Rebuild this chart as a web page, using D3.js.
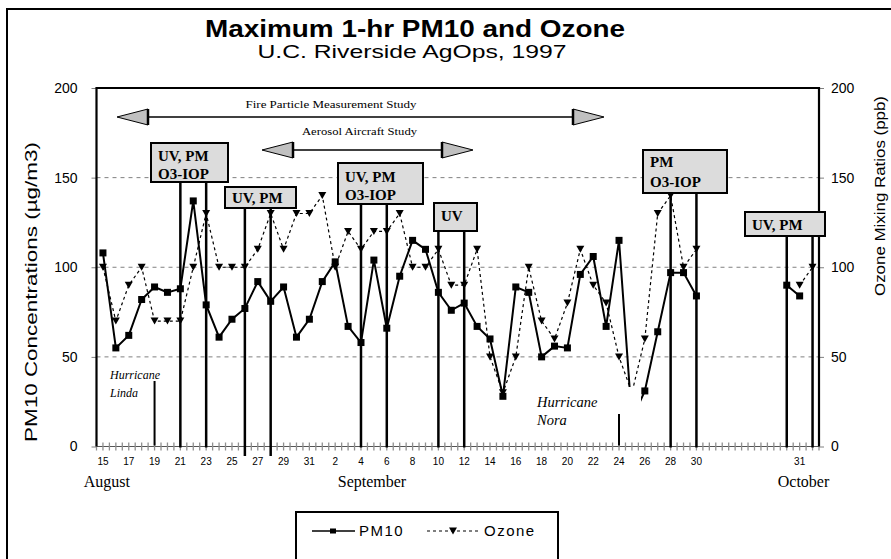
<!DOCTYPE html>
<html>
<head>
<meta charset="utf-8">
<script src="https://cdn.jsdelivr.net/npm/d3@7"></script>
<style>
  body { margin: 0; background: #fff; }
  text { fill: #000; }
</style>
</head>
<body>
<svg id="chart" width="891" height="559"></svg>
<script>
// Day-of-month label for each category on the x axis (blank = unlabeled slot)
const dayNames = [
  "15","16","17","18","19","20","21","22","23","24","25","26","27","28","29","30","31",
  "1","2","3","4","5","6","7","8","9","10","11","12","13","14","15","16","17","18","19","20",
  "21","22","23","24","25","26","27","28","29","30",
  "","","","","","","","31",""
];

// Maximum 1-hr PM10 (µg/m3), one value per category
const pm10 = [
  108, 55, 62, 82, 89, 86, 88, 137, 79, 61, 71, 77, 92, 81, 89, 61, 71,
  92, 103, 67, 58, 104, 66, 95, 115, 110, 86, 76, 80, 67, 60, 28, 89, 86, 50, 56, 55,
  96, 106, 67, 115, 15, 31, 64, 97, 97, 84,
  null, null, null, null, null, null, 90, 84, null
];

// Maximum 1-hr ozone (ppb), one value per category
const ozone = [
  100, 70, 90, 100, 70, 70, 70, 100, 130, 100, 100, 100, 110, 130, 110, 130, 130,
  140, 100, 120, 110, 120, 120, 130, 100, 100, 110, 90, 90, 110, 50, 30, 50, 100, 70, 60, 80,
  110, 90, 80, 50, 30, 60, 130, 140, 100, 110,
  null, null, null, null, null, null, null, 90, 100
];

const yTicks = [0, 50, 100, 150, 200];
const gridValues = [50, 100, 150];

const months = [
  { name: "August", at: 0.3 },
  { name: "September", at: 20.85 },
  { name: "October", at: 54.3 }
];

// Sampling periods: label lines and the category that each vertical marker stands on
const samplingBoxes = [
  { text: ["UV, PM", "O3-IOP"], days: [6, 8] },
  { text: ["UV, PM"], days: [11, 13] },
  { text: ["UV, PM", "O3-IOP"], days: [20, 22] },
  { text: ["UV"], days: [26, 28] },
  { text: ["PM", "O3-IOP"], days: [44, 46] },
  { text: ["UV, PM"], days: [53, 55] }
];

const studies = ["Fire Particle Measurement Study", "Aerosol Aircraft Study"];
const hurricanes = [
  { name: ["Hurricane", "Linda"], day: 4 },
  { name: ["Hurricane", "Nora"], day: 40 }
];

const seriesNames = ["PM10", "Ozone"];

// ---------------------------------------------------------------------------
const svg = d3.select("#chart");
const SANS = "'Liberation Sans', Arial, sans-serif";
const SERIF = "'Liberation Serif', 'Times New Roman', serif";

const plot = { left: 96.5, right: 819, top: 88, bottom: 446.5 };

const x = d3.scaleLinear().domain([-0.5, dayNames.length - 0.5]).range([plot.left, plot.right]);
const y = d3.scaleLinear().domain([0, 200]).range([plot.bottom, plot.top]);
const yR = d3.scaleLinear().domain([0, 200]).range([plot.bottom, plot.top]);

// outer frame
svg.append("rect").attr("x", 7).attr("y", 9).attr("width", 900).attr("height", 600)
  .attr("fill", "#fff").attr("stroke", "#000").attr("stroke-width", 2);

// titles
svg.append("text").attr("x", 415).attr("y", 37).attr("text-anchor", "middle")
  .attr("font-family", SANS).attr("font-weight", "bold").attr("font-size", 24)
  .attr("textLength", 420).attr("lengthAdjust", "spacingAndGlyphs")
  .text("Maximum 1-hr PM10 and Ozone");
svg.append("text").attr("x", 412).attr("y", 58).attr("text-anchor", "middle")
  .attr("font-family", SANS).attr("font-size", 19)
  .attr("textLength", 309).attr("lengthAdjust", "spacingAndGlyphs")
  .text("U.C. Riverside AgOps, 1997");

// gridlines
svg.append("g").selectAll("line").data(gridValues).join("line")
  .attr("x1", plot.left).attr("x2", plot.right)
  .attr("y1", d => y(d)).attr("y2", d => y(d))
  .attr("stroke", "#808080").attr("stroke-width", 1).attr("stroke-dasharray", "4,4");

// left axis
const gL = svg.append("g").attr("transform", `translate(${plot.left},0)`)
  .call(d3.axisLeft(y).tickValues(yTicks).tickSize(5).tickPadding(14));
gL.select(".domain").remove();
gL.selectAll(".tick line").attr("stroke", "#808080");
gL.selectAll(".tick text").attr("font-family", SANS).attr("font-size", 14).attr("fill", "#000");

// right axis
const gR = svg.append("g").attr("transform", `translate(${plot.right},0)`)
  .call(d3.axisRight(yR).tickValues(yTicks).tickSize(5).tickPadding(7));
gR.select(".domain").remove();
gR.selectAll(".tick line").attr("stroke", "#808080");
gR.selectAll(".tick text").attr("font-family", SANS).attr("font-size", 14).attr("fill", "#000");

// axis titles
svg.append("text").attr("transform", "translate(37,292) rotate(-90)").attr("text-anchor", "middle")
  .attr("font-family", SANS).attr("font-size", 17)
  .attr("textLength", 300).attr("lengthAdjust", "spacingAndGlyphs")
  .text("PM10 Concentrations (µg/m3)");
svg.append("text").attr("transform", "translate(885,196) rotate(-90)").attr("text-anchor", "middle")
  .attr("font-family", SANS).attr("font-size", 15)
  .attr("textLength", 200).attr("lengthAdjust", "spacingAndGlyphs")
  .text("Ozone Mixing Ratios (ppb)");

// bottom axis: half-day ticks, day labels every other category
const halfTicks = d3.range(-1, dayNames.length * 2).map(k => k / 2);
const xAxisG = svg.append("g");
xAxisG.append("line").attr("x1", plot.left).attr("x2", plot.right)
  .attr("y1", plot.bottom).attr("y2", plot.bottom).attr("stroke", "#555").attr("stroke-width", 1.2);
xAxisG.selectAll("line.tk").data(halfTicks).join("line").attr("class", "tk")
  .attr("x1", d => x(d)).attr("x2", d => x(d))
  .attr("y1", plot.bottom - 4).attr("y2", plot.bottom + 4)
  .attr("stroke", "#909090").attr("stroke-width", 1.3);
const labelled = dayNames.map((t, i) => ({ t, i })).filter(d => d.i % 2 === 0 && d.t !== "");
xAxisG.selectAll("text.day").data(labelled).join("text").attr("class", "day")
  .attr("x", d => x(d.i)).attr("y", 465).attr("text-anchor", "middle")
  .attr("font-family", SANS).attr("font-size", 10).text(d => d.t);
xAxisG.selectAll("text.month").data(months).join("text").attr("class", "month")
  .attr("x", d => x(d.at)).attr("y", 487).attr("text-anchor", "middle")
  .attr("font-family", SERIF).attr("font-size", 16).text(d => d.name);

// data lines
const lineGen = d3.line().defined(d => d.v != null).x(d => x(d.i)).y(d => y(d.v));
const pmPts = pm10.map((v, i) => ({ v, i }));
const ozPts = ozone.map((v, i) => ({ v, i }));

svg.append("path").attr("d", lineGen(ozPts)).attr("fill", "none")
  .attr("stroke", "#000").attr("stroke-width", 1.2).attr("stroke-dasharray", "3,3");
svg.append("path").attr("d", lineGen(pmPts)).attr("fill", "none")
  .attr("stroke", "#000").attr("stroke-width", 2);

const tri = "M-4,-3.5L4,-3.5L0,3.5Z";
svg.append("g").selectAll("path").data(ozPts.filter(d => d.v != null)).join("path")
  .attr("d", tri).attr("transform", d => `translate(${x(d.i)},${y(d.v)})`).attr("fill", "#000");
svg.append("g").selectAll("rect").data(pmPts.filter(d => d.v != null)).join("rect")
  .attr("x", d => x(d.i) - 3.5).attr("y", d => y(d.v) - 3.5).attr("width", 7).attr("height", 7)
  .attr("fill", "#000");

// plot frame (top, left, right)
svg.append("path").attr("d", `M${plot.left},${plot.bottom}V${plot.top}H${plot.right}V${plot.bottom}`)
  .attr("fill", "none").attr("stroke", "#000").attr("stroke-width", 2.2);

// hurricane notes
const hurLayout = [
  { tx: 110, ty: [379, 397], size: 12, top: 381, knock: null },
  { tx: 537, ty: [407, 425], size: 14.5, top: 414, knock: { x: 530, y: 387, w: 111, h: 45 } }
];
hurricanes.forEach((h, k) => {
  const L = hurLayout[k];
  if (L.knock) {
    svg.append("rect").attr("x", L.knock.x).attr("y", L.knock.y)
      .attr("width", L.knock.w).attr("height", L.knock.h).attr("fill", "#fff");
  }
  svg.append("line").attr("x1", x(h.day)).attr("x2", x(h.day))
    .attr("y1", L.top).attr("y2", plot.bottom - 1).attr("stroke", "#000").attr("stroke-width", 2);
  h.name.forEach((s, j) => {
    svg.append("text").attr("x", L.tx).attr("y", L.ty[j])
      .attr("font-family", SERIF).attr("font-style", "italic").attr("font-size", L.size).text(s);
  });
});

// study period arrows
const studyLayout = [
  { x1: 117, x2: 604, y: 117, tx: 331, ty: 108, len: 171 },
  { x1: 262, x2: 473, y: 150, tx: 359.5, ty: 135, len: 115 }
];
studies.forEach((s, k) => {
  const L = studyLayout[k];
  const g = svg.append("g");
  g.append("line").attr("x1", L.x1 + 30).attr("x2", L.x2 - 30).attr("y1", L.y).attr("y2", L.y)
    .attr("stroke", "#000").attr("stroke-width", 1.5);
  const head = (tip, dir) => {
    const base = tip + dir * 31;
    g.append("path").attr("d", `M${tip},${L.y}L${base},${L.y - 8}L${base},${L.y + 8}Z`)
      .attr("fill", "#c0c0c0").attr("stroke", "#000").attr("stroke-width", 1);
    g.append("line").attr("x1", base).attr("x2", base).attr("y1", L.y - 8).attr("y2", L.y + 8)
      .attr("stroke", "#000").attr("stroke-width", 2.5);
  };
  head(L.x1, 1);
  head(L.x2, -1);
  g.append("text").attr("x", L.tx).attr("y", L.ty).attr("text-anchor", "middle")
    .attr("font-family", SERIF).attr("font-size", 11)
    .attr("textLength", L.len).attr("lengthAdjust", "spacingAndGlyphs").text(s);
});

// sampling period boxes with marker lines
const boxLayout = [
  { x: 151, y: 143, w: 77, h: 39, base: [161, 179] },
  { x: 225, y: 187, w: 71, h: 21, base: [203] },
  { x: 338, y: 163, w: 85, h: 41, base: [182, 200] },
  { x: 434, y: 203, w: 43, h: 28, base: [221] },
  { x: 643, y: 150, w: 84, h: 43, base: [167, 187] },
  { x: 745, y: 212, w: 80, h: 24, base: [230] }
];
const lineEnds = { 11: 456, 13: 456 };
samplingBoxes.forEach((b, k) => {
  const L = boxLayout[k];
  b.days.forEach(dy => {
    svg.append("line").attr("x1", x(dy)).attr("x2", x(dy))
      .attr("y1", L.y + L.h).attr("y2", lineEnds[dy] || plot.bottom + 1)
      .attr("stroke", "#000").attr("stroke-width", 2.5);
  });
  svg.append("rect").attr("x", L.x).attr("y", L.y).attr("width", L.w).attr("height", L.h)
    .attr("fill", "#dcdcdc").attr("stroke", "#000").attr("stroke-width", 2);
  b.text.forEach((t, j) => {
    svg.append("text").attr("x", L.x + 7).attr("y", L.base[j])
      .attr("font-family", SERIF).attr("font-weight", "bold").attr("font-size", 15).text(t);
  });
});

// legend
const lg = svg.append("g");
lg.append("rect").attr("x", 296).attr("y", 512).attr("width", 262).attr("height", 70)
  .attr("fill", "#fff").attr("stroke", "#000").attr("stroke-width", 2);
lg.append("line").attr("x1", 312).attr("x2", 355).attr("y1", 531).attr("y2", 531)
  .attr("stroke", "#000").attr("stroke-width", 1.5);
lg.append("rect").attr("x", 330).attr("y", 528.5).attr("width", 6).attr("height", 5).attr("fill", "#000");
lg.append("text").attr("x", 359).attr("y", 536).attr("font-family", SANS).attr("font-size", 15)
  .attr("letter-spacing", 1.5).text(seriesNames[0]);
lg.append("line").attr("x1", 427).attr("x2", 480).attr("y1", 531).attr("y2", 531)
  .attr("stroke", "#000").attr("stroke-width", 1.2).attr("stroke-dasharray", "3,3");
lg.append("path").attr("d", tri).attr("transform", "translate(453,531)").attr("fill", "#000");
lg.append("text").attr("x", 484).attr("y", 536).attr("font-family", SANS).attr("font-size", 15)
  .attr("letter-spacing", 1.5).text(seriesNames[1]);
</script>
</body>
</html>
